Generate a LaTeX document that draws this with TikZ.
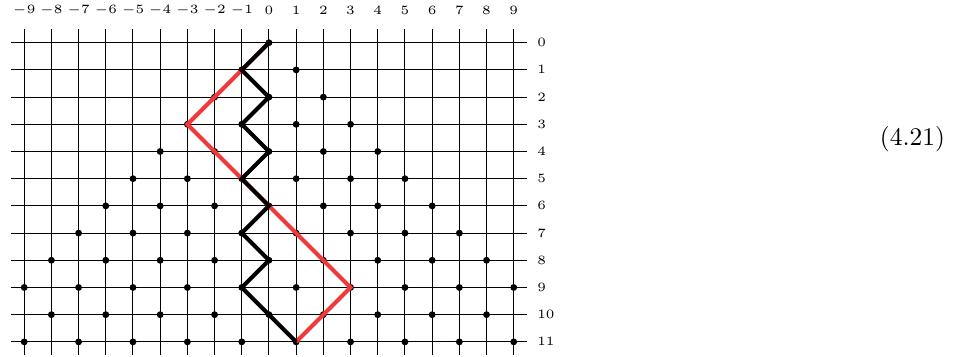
\documentclass[tikz,border=0pt]{standalone}
\usepackage{amsmath,amssymb}
\usepackage{xcolor}
\usepackage{tikz}
\usetikzlibrary{calc}

\definecolor{pathred}{RGB}{240,58,58}

\begin{document}
\begin{tikzpicture}[x=0.3763cm,y=0.3763cm,
  gridline/.style={line width=0.4pt,black},
  latdot/.style={fill=black},
  blackpath/.style={line width=1.6pt,black,line join=miter},
  redpath/.style={line width=1.6pt,pathred,line join=miter},
  lab/.style={font=\tiny,inner sep=0pt}]
\useasboundingbox (-9.89,1.57) rectangle (25.85,-11.52);
% grid
\foreach \c in {-9,...,9}{
  \draw[gridline] (\c,0.5) -- (\c,-11.5);
  \node[lab] (top\c) at (\c,1.18) {$\c$};
}
\foreach \r in {0,...,11}{
  \draw[gridline] (-9.5,-\r) -- (9.5,-\r);
  \node[lab,anchor=west] (row\r) at (9.85,-\r) {$\r$};
}
% lattice points
\foreach \r in {0,...,11}{
  \foreach \c in {-9,...,9}{
    \coordinate (p\c-\r) at (\c,-\r);
    \pgfmathtruncatemacro\ok{and(abs(\c)<=\r,iseven(\c+\r))}
    \ifnum\ok=1
      \fill[latdot] (p\c-\r) circle (1.35pt);
    \fi
  }
}
% paths
\draw[redpath] (p0-0) -- (p-3-3) -- (p0-6) -- (p3-9) -- (p1-11);
\draw[blackpath] (p0-0) -- (p-1-1) -- (p0-2) -- (p-1-3) -- (p0-4) -- (p-1-5)
  -- (p0-6) -- (p-1-7) -- (p0-8) -- (p-1-9) -- (p0-10) -- (p1-11);
\node (eqno) at (23.66,-3.54) {(4.21)};
\end{tikzpicture}
\end{document}
